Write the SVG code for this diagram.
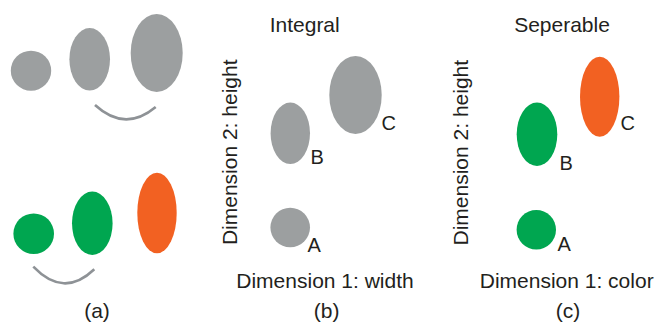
<svg xmlns="http://www.w3.org/2000/svg" width="657" height="324" viewBox="0 0 657 324">
  <style>
    .gray { fill: #9c9fa0; }
    .green { fill: #00a650; }
    .orange { fill: #f26122; }
    .smile { fill: none; stroke: #8e9296; stroke-width: 2.6; stroke-linecap: butt; }
    text { font-family: "Liberation Sans", Arial, sans-serif; fill: #231f20; font-size: 21px; }
    .mid { text-anchor: middle; }
    .pt { font-size: 20px; }
  </style>
  <rect width="657" height="324" fill="#ffffff"/>

  <!-- (a) groupings by similarity -->
  <g id="panel-a">
    <g id="a-gray-row">
      <ellipse class="gray" cx="31" cy="70.7" rx="20.2" ry="20"/>
      <ellipse class="gray" cx="89.7" cy="59.3" rx="20.3" ry="31.3"/>
      <ellipse class="gray" cx="156.7" cy="53" rx="26" ry="39"/>
    </g>
    <g id="a-color-row">
      <ellipse class="green" cx="33.7" cy="233.7" rx="20.3" ry="20.3"/>
      <ellipse class="green" cx="92.3" cy="223.3" rx="20.3" ry="31.7"/>
      <ellipse class="orange" cx="157" cy="213" rx="19.7" ry="40.2"/>
    </g>
    <g id="a-brackets">
      <path class="smile" d="M95 105 Q125 132.6 155.7 107"/>
      <path class="smile" d="M33.3 266.7 Q63.8 298.6 94.3 269.3"/>
    </g>
    <text class="mid" x="97" y="317.5">(a)</text>
  </g>

  <!-- (b) integral dimensions -->
  <g id="panel-b">
    <text class="mid" x="304.7" y="31.5">Integral</text>
    <g id="b-C">
      <ellipse class="gray" cx="355.5" cy="95" rx="26.2" ry="39"/>
      <text class="pt" x="381.5" y="130">C</text>
    </g>
    <g id="b-B">
      <ellipse class="gray" cx="290.3" cy="133.3" rx="19.7" ry="30.7"/>
      <text class="pt" x="310.5" y="164">B</text>
    </g>
    <g id="b-A">
      <ellipse class="gray" cx="290.2" cy="227.5" rx="19.8" ry="19.8"/>
      <text class="pt" x="307.5" y="251.5">A</text>
    </g>
    <text class="mid" transform="translate(236.8 152.3) rotate(-90)">Dimension 2: height</text>
    <text class="mid" x="325" y="288.3">Dimension 1: width</text>
    <text class="mid" x="326.7" y="317.5">(b)</text>
  </g>

  <!-- (c) separable dimensions -->
  <g id="panel-c">
    <text class="mid" x="562" y="31.5">Seperable</text>
    <g id="c-C">
      <ellipse class="orange" cx="599.7" cy="96.7" rx="19.7" ry="40"/>
      <text class="pt" x="620.5" y="130">C</text>
    </g>
    <g id="c-B">
      <ellipse class="green" cx="537" cy="134.3" rx="20.3" ry="31.7"/>
      <text class="pt" x="559.5" y="170">B</text>
    </g>
    <g id="c-A">
      <ellipse class="green" cx="536.3" cy="229.7" rx="19.7" ry="19.7"/>
      <text class="pt" x="557.5" y="250.7">A</text>
    </g>
    <text class="mid" transform="translate(468.4 152.7) rotate(-90)">Dimension 2: height</text>
    <text class="mid" x="566.7" y="288.3">Dimension 1: color</text>
    <text class="mid" x="568" y="317.5">(c)</text>
  </g>
</svg>
